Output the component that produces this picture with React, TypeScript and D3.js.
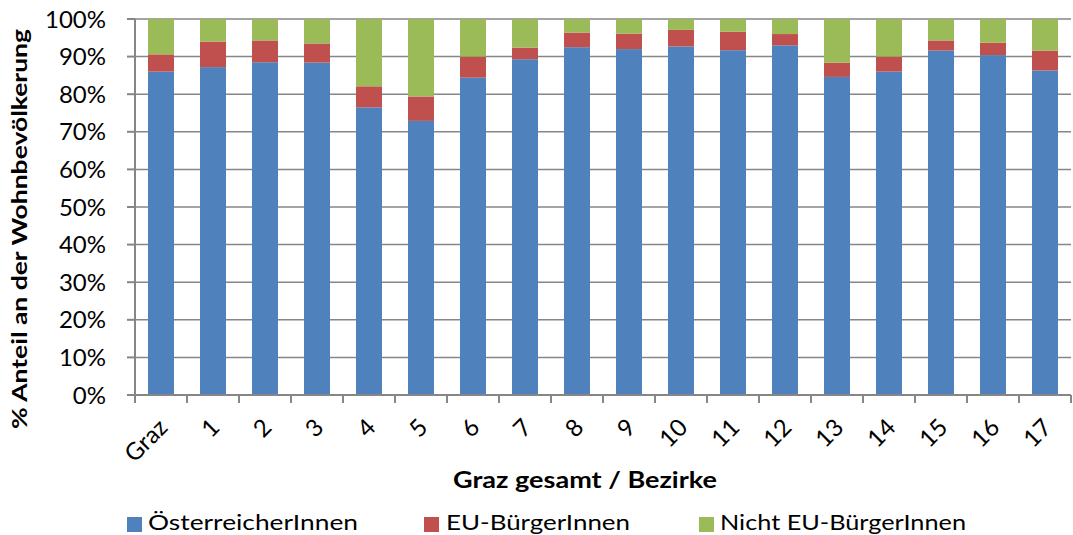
import React from "react";
import * as d3 from "d3";

const categories = ["Graz", "1", "2", "3", "4", "5", "6", "7", "8", "9", "10", "11", "12", "13", "14", "15", "16", "17"];
const oesterreicher = [86.0, 87.2, 88.5, 88.4, 76.5, 72.9, 84.4, 89.3, 92.5, 92.0, 92.7, 91.7, 93.0, 84.6, 86.0, 91.6, 90.4, 86.3];
const euBuerger = [4.6, 6.8, 5.8, 5.1, 5.6, 6.5, 5.6, 3.1, 3.9, 4.1, 4.4, 4.9, 3.0, 3.8, 4.0, 2.7, 3.3, 5.3];
const nichtEu = [9.4, 6.0, 5.7, 6.5, 17.9, 20.6, 10.0, 7.6, 3.6, 3.9, 2.9, 3.4, 4.0, 11.6, 10.0, 5.7, 6.3, 8.4];
const yTicks = [0, 10, 20, 30, 40, 50, 60, 70, 80, 90, 100];
const seriesNames = ["ÖsterreicherInnen", "EU-BürgerInnen", "Nicht EU-BürgerInnen"];
const colors = ["#4F81BD", "#C0504D", "#9BBB59"];

const W = 1073;
const H = 535;
const FONT = "Lato, 'Open Sans', sans-serif";

export default function App() {
  const left = 135, right = 1071, top = 19, bottom = 395;
  const x = d3.scaleBand<string>().domain(categories).range([left, right]).paddingInner(0.5).paddingOuter(0.25);
  const y = d3.scaleLinear().domain([0, 100]).range([bottom, top]);
  const rows = categories.map((c, i) => ({ cat: c, s0: oesterreicher[i], s1: euBuerger[i], s2: nichtEu[i] }));
  const stacked = d3.stack<any>().keys(["s0", "s1", "s2"])(rows);
  const step = x.step();
  const boundaries = d3.range(categories.length + 1).map((i) => left + i * step);
  const legendPos = [
    { sx: 127, tx: 148, len: 210 },
    { sx: 424, tx: 446, len: 184 },
    { sx: 699, tx: 720, len: 246 },
  ];
  const grey = "#868686";

  return (
    <svg width={W} height={H} style={{ position: "absolute", left: 0, top: 0, background: "#fff" }} fontFamily={FONT}>
      {yTicks.filter((t) => t > 0).map((t) => (
        <line key={"g" + t} x1={left} x2={right} y1={y(t)} y2={y(t)} stroke={grey} strokeWidth={1.5} />
      ))}
      {stacked.map((layer, li) => (
        <g key={layer.key} fill={colors[li]}>
          {layer.map((d, i) => (
            <rect key={i} x={x(categories[i])} width={x.bandwidth()} y={y(d[1])} height={y(d[0]) - y(d[1])} />
          ))}
        </g>
      ))}
      <line x1={left} x2={left} y1={top} y2={bottom} stroke={grey} strokeWidth={2} />
      {yTicks.map((t) => (
        <g key={"t" + t}>
          <line x1={left - 8} x2={left} y1={y(t)} y2={y(t)} stroke={grey} strokeWidth={2} />
          <text x={106} y={y(t)} dy="0.36em" textAnchor="end" fontSize={24} fill="#000">
            {t + "%"}
          </text>
        </g>
      ))}
      <line x1={left} x2={right} y1={bottom} y2={bottom} stroke={grey} strokeWidth={2} />
      {boundaries.map((bx, i) => (
        <line key={"b" + i} x1={bx} x2={bx} y1={bottom} y2={bottom + 8} stroke={grey} strokeWidth={2} />
      ))}
      {categories.map((c) => {
        const cx = (x(c) as number) + x.bandwidth() / 2;
        return (
          <text key={"x" + c} transform={`translate(${cx + 8},${bottom + 34}) rotate(-45)`} textAnchor="end" fontSize={24} fill="#000">
            {c}
          </text>
        );
      })}
      <text x={585} y={488} textAnchor="middle" fontSize={22} fontWeight="bold" fill="#000" textLength={264} lengthAdjust="spacingAndGlyphs">
        Graz gesamt / Bezirke
      </text>
      <text transform={`translate(27,229) rotate(-90)`} textAnchor="middle" fontSize={21} fontWeight="bold" fill="#000" textLength={400} lengthAdjust="spacingAndGlyphs">
        % Anteil an der Wohnbevölkerung
      </text>
      {seriesNames.map((n, i) => (
        <g key={n}>
          <rect x={legendPos[i].sx} y={517} width={15} height={15} fill={colors[i]} />
          <text x={legendPos[i].tx} y={530} fontSize={21} fill="#000" textLength={legendPos[i].len} lengthAdjust="spacingAndGlyphs">
            {n}
          </text>
        </g>
      ))}
    </svg>
  );
}
